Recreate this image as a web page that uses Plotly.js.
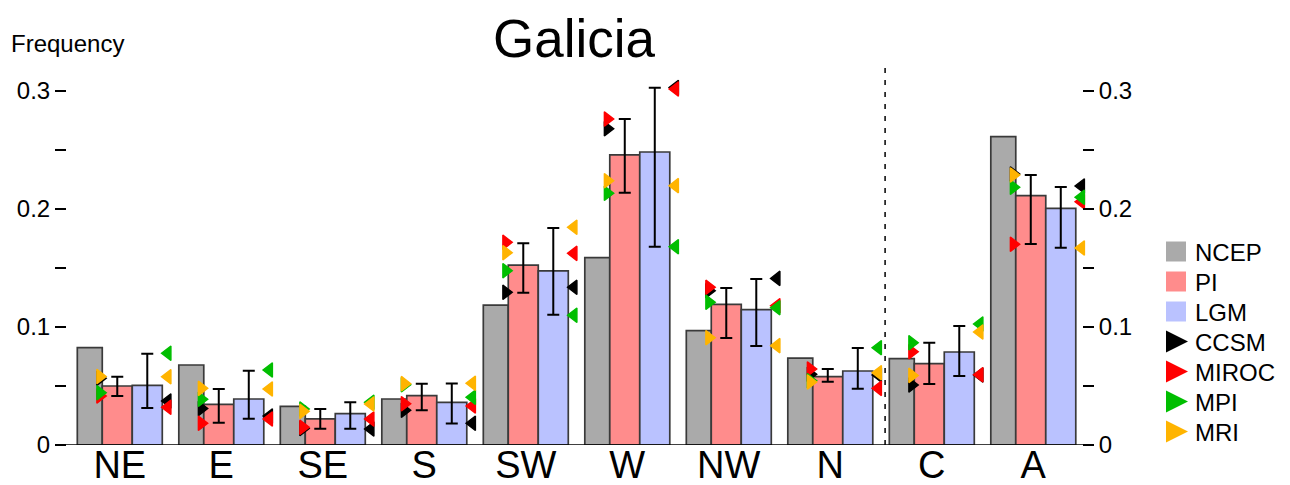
<!DOCTYPE html>
<html>
<head>
<meta charset="utf-8">
<script src="https://cdn.plot.ly/plotly-3.0.1.min.js"></script>
<style>html,body{margin:0;padding:0;background:#fff}#chart{width:1290px;height:485px}</style>
</head>
<body>
<div id="chart"></div>
<script>
// ---- data ----
const categories = ['NE','E','SE','S','SW','W','NW','N','C','A'];
const ncep  = [0.0825,0.0678,0.0328,0.0390,0.1186,0.1588,0.0969,0.0737,0.0732,0.2613];
const pi    = [0.0500,0.0345,0.0222,0.0418,0.1525,0.2458,0.1192,0.0579,0.0689,0.2113];
const lgm   = [0.0505,0.0390,0.0266,0.0362,0.1475,0.2483,0.1147,0.0627,0.0788,0.2006];
const piHi  = [0.0579,0.0475,0.0305,0.0520,0.1710,0.2763,0.1330,0.0644,0.0867,0.2288];
const piLo  = [0.0415,0.0189,0.0138,0.0295,0.1290,0.2138,0.0907,0.0537,0.0517,0.1703];
const lgmHi = [0.0774,0.0630,0.0362,0.0522,0.1840,0.3028,0.1407,0.0822,0.1008,0.2186];
const lgmLo = [0.0314,0.0223,0.0138,0.0182,0.1104,0.1680,0.0839,0.0477,0.0585,0.1672];

const piCCSM  = [0.0565,0.0310,0.0140,0.0295,0.1294,0.2680,0.1308,0.0599,0.0508,0.2297];
const piMIROC = [0.0415,0.0184,0.0150,0.0350,0.1718,0.2763,0.1336,0.0644,0.0791,0.1701];
const piMPI   = [0.0443,0.0387,0.0305,0.0510,0.1477,0.2133,0.1209,0.0545,0.0867,0.2184];
const piMRI   = [0.0580,0.0480,0.0285,0.0520,0.1630,0.2240,0.0909,0.0534,0.0590,0.2288];

const lgmCCSM  = [0.0373,0.0246,0.0136,0.0184,0.1336,0.3030,0.1412,0.0593,0.0593,0.2195];
const lgmMIROC = [0.0320,0.0220,0.0220,0.0330,0.1624,0.3017,0.1180,0.0480,0.0596,0.2062];
const lgmMPI   = [0.0777,0.0636,0.0362,0.0404,0.1099,0.1680,0.1164,0.0825,0.1025,0.2099];
const lgmMRI   = [0.0579,0.0475,0.0347,0.0523,0.1845,0.2198,0.0842,0.0613,0.0958,0.1670];

const yTickVals  = [0,0.05,0.1,0.15,0.2,0.25,0.3];
const yTickText  = ['0','','0.1','','0.2','','0.3'];
const seriesNames = ['NCEP','PI','LGM'];
const modelNames  = ['CCSM','MIROC','MPI','MRI'];

// ---- styling ----
const FONT = '"Liberation Sans", Arial, Helvetica, sans-serif';
const barColors = ['#AAAAAA','#FF8C8C','#BAC2FF'];
const modelColors = ['#000000','#FF0000','#00BE00','#FFB400'];
const L=67, R=1082, T=68, B=445;
const px2x = p => (p-L)/(R-L);
const px2y = p => (B-p)/(B-T);

const idx = categories.map((c,i)=>i);
const GW = 0.246, BW = 0.2956;
const offs = [-0.4185, -0.4185+GW, -0.4185+GW+BW];
const widths = [GW, BW, BW];
const PI_OFF = -0.195, LGM_OFF = 0.473;

const traces = [];
const barData = [ncep, pi, lgm];
const errs = [null, [piHi,piLo], [lgmHi,lgmLo]];
barData.forEach((vals,k)=>{
  const t = {
    type:'bar', x: idx, y: vals, name: seriesNames[k],
    offset: offs[k], width: widths[k],
    marker:{color: barColors[k], line:{color:'#3a3a3a', width:1.7}},
    hoverinfo:'skip', showlegend:false
  };
  if (errs[k]) {
    const hi = errs[k][0], lo = errs[k][1];
    t.error_y = {type:'data', symmetric:false,
      array: hi.map((h,i)=>h-vals[i]), arrayminus: lo.map((l,i)=>vals[i]-l),
      color:'#000', thickness:2, width:6};
  }
  traces.push(t);
});
const piModels = [piCCSM, piMIROC, piMPI, piMRI];
const lgmModels = [lgmCCSM, lgmMIROC, lgmMPI, lgmMRI];
modelNames.forEach((nm,m)=>{
  traces.push({type:'scatter', mode:'markers', name: nm+' PI',
    x: idx.map(i=>i+PI_OFF), y: piModels[m],
    marker:{symbol:'triangle-right', size:12.5, color: modelColors[m], line:{color:modelColors[m], width:1.4}},
    hoverinfo:'skip', showlegend:false, cliponaxis:false});
});
modelNames.forEach((nm,m)=>{
  traces.push({type:'scatter', mode:'markers', name: nm+' LGM', yaxis:'y2',
    x: idx.map(i=>i+LGM_OFF), y: lgmModels[m],
    marker:{symbol:'triangle-left', size:12.5, color: modelColors[m], line:{color:modelColors[m], width:1.4}},
    hoverinfo:'skip', showlegend:false, cliponaxis:false});
});

// ---- legend (custom, drawn in paper space) ----
const shapes = [];
const annotations = [];
const legNames = seriesNames.concat(modelNames);
const legColors = barColors.concat(modelColors);
legNames.forEach((nm,i)=>{
  const cy = 251.5 + 30*i;
  if (i < 3) {
    shapes.push({type:'rect', xref:'paper', yref:'paper',
      x0:px2x(1166), x1:px2x(1186), y0:px2y(cy+10), y1:px2y(cy-10),
      fillcolor: legColors[i], line:{width:0}});
  } else {
    shapes.push({type:'path', xref:'paper', yref:'paper',
      path:'M'+px2x(1166)+','+px2y(cy-11)+' L'+px2x(1188)+','+px2y(cy)+' L'+px2x(1166)+','+px2y(cy+11)+' Z',
      fillcolor: legColors[i], line:{width:0}});
  }
  annotations.push({xref:'paper', yref:'paper', x:px2x(1193), y:px2y(cy+1), xanchor:'left', yanchor:'middle',
    text: nm, showarrow:false, font:{family:FONT, size:24, color:'#000'}});
});
// baseline and separator
shapes.push({type:'line', xref:'paper', yref:'y', x0:px2x(56), x1:px2x(1093), y0:0, y1:0,
  line:{color:'#000', width:1.5}});
shapes.push({type:'line', xref:'x', yref:'paper', x0:7.54, x1:7.54, y0:0, y1:1,
  line:{color:'#000', width:1.5, dash:'5px,7px'}});
annotations.push({xref:'paper', yref:'paper', x:px2x(9), y:px2y(43), xanchor:'left', yanchor:'middle',
  text:'Frequency', showarrow:false, font:{family:FONT, size:24, color:'#000'}});

const yMax = (B-T)/1180;
const yax = {range:[0,yMax], tickvals:yTickVals, ticktext:yTickText, ticks:'outside', ticklen:11,
  tickwidth:1.5, tickcolor:'#000', showgrid:false, zeroline:false, showline:false,
  tickfont:{family:FONT, size:24, color:'#000'}, fixedrange:true};

const layout = {
  width:1290, height:485,
  margin:{l:L, r:1290-R, t:T, b:485-B, pad:0},
  paper_bgcolor:'#fff', plot_bgcolor:'#fff',
  barmode:'overlay', showlegend:false,
  font:{family:FONT, color:'#000'},
  title:{text:'Galicia', font:{family:FONT, size:53, color:'#000'},
    x:574/1290, xref:'container', xanchor:'center', y:1-38/485, yref:'container', yanchor:'middle'},
  xaxis:{range:[-0.52,9.48], tickvals: idx, ticktext: categories, ticks:'', showgrid:false,
    anchor:'free', position: 6/(B-T),
    zeroline:false, showline:false, tickfont:{family:FONT, size:38, color:'#000'}, fixedrange:true},
  yaxis: Object.assign({}, yax),
  yaxis2: Object.assign({}, yax, {overlaying:'y', side:'right', anchor:'x'}),
  shapes: shapes, annotations: annotations
};
Plotly.newPlot('chart', traces, layout, {staticPlot:true, displayModeBar:false});
</script>
</body>
</html>
